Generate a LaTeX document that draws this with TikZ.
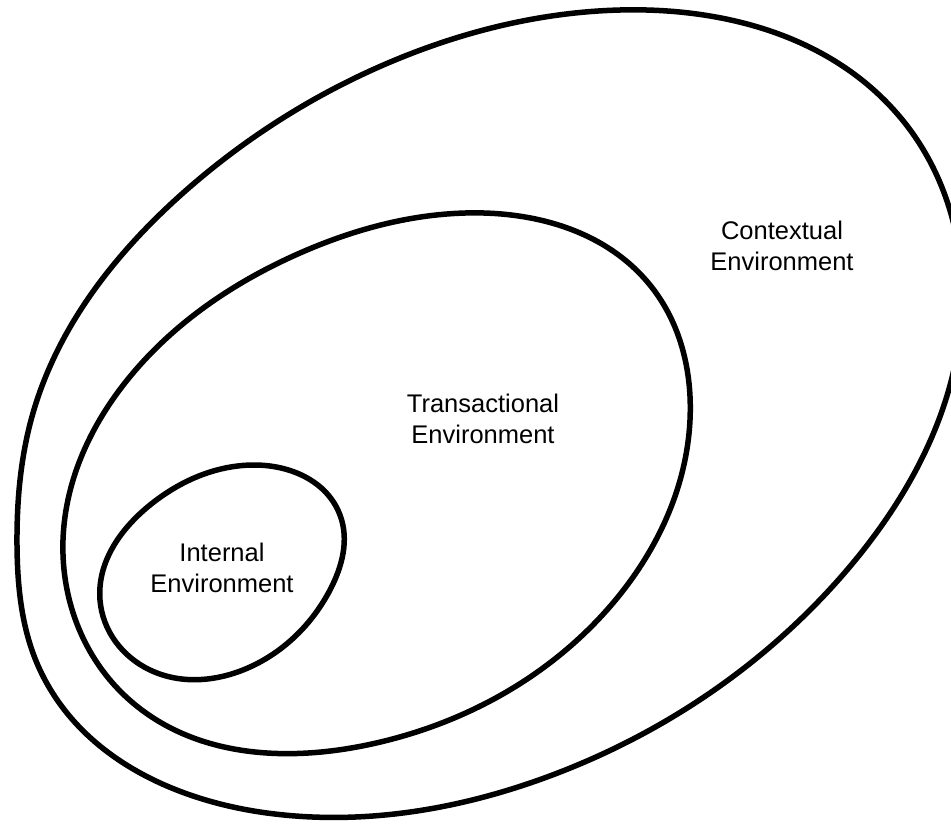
\documentclass[tikz,border=0pt]{standalone}
\usepackage{fontspec}
\setmainfont{Liberation Sans}
\usepackage{xcolor}
\usetikzlibrary{hobby}

\begin{document}
\begin{tikzpicture}[x=1pt,y=-1pt,
		env/.style={line width=5.5pt,use Hobby shortcut,closed=true},
		envlabel/.style={align=center,font=\fontsize{25.5}{30.5}\selectfont}]
		\useasboundingbox(0,0)rectangle(951,823);
		% contextual
		\draw[env](620,10)..(900,117)..(962,310)..(847,570)..(547,777)..(267,813)..(40,670)..(17,545)..(33,413)..(183,193)..(400,58);
		% transactional
		\draw[env](465,213)..(650,285)..(690,420)..(613,603)..(367,745)..(133,703)..(63,540)..(133,373)..(300,253);
		% internal
		\draw[env](253,465)..(340,515)..(330,590)..(250,667)..(150,670)..(100,600)..(150,505);
		\node[envlabel](contextual) at(782,246){Contextual\\Environment};
		\node[envlabel](transactional) at(483,419){Transactional\\Environment};
		\node[envlabel](internal) at(222,568){Internal\\Environment};
		\end{tikzpicture}
\end{document}
